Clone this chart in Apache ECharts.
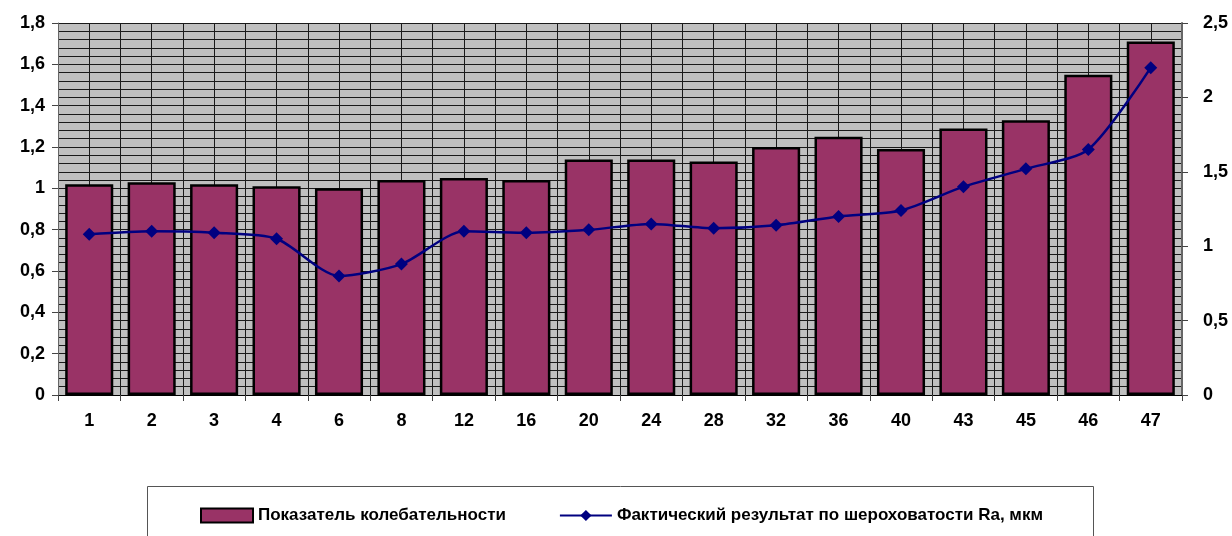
<!DOCTYPE html>
<html>
<head>
<meta charset="utf-8">
<script src="https://cdn.jsdelivr.net/npm/echarts@6/dist/echarts.min.js"></script>
<style>
  html, body { margin: 0; padding: 0; background: #fff; }
  #chart { width: 1232px; height: 536px; }
</style>
</head>
<body>
<div id="chart"></div>
<script>
// категории (номера образцов)
const categories = ['1', '2', '3', '4', '6', '8', '12', '16', '20', '24', '28', '32', '36', '40', '43', '45', '46', '47']
// показатель колебательности (левая ось)
const oscillation = [1.02, 1.03, 1.02, 1.01, 1.00, 1.04, 1.05, 1.04, 1.14, 1.14, 1.13, 1.20, 1.25, 1.19, 1.29, 1.33, 1.55, 1.71]
// шероховатость Ra, мкм (правая ось)
const roughness = [1.08, 1.10, 1.09, 1.05, 0.80, 0.88, 1.10, 1.09, 1.11, 1.15, 1.12, 1.14, 1.20, 1.24, 1.40, 1.52, 1.65, 2.20]

const barName = 'Показатель колебательности'
const lineName = 'Фактический результат по шероховатости Ra, мкм'

const font = '"Liberation Sans", Arial, sans-serif'
const comma = v => String(v).replace('.', ',')

const chart = echarts.init(document.getElementById('chart'))
chart.setOption({
  animation: false,
  textStyle: { fontFamily: font },
  grid: {
    left: 58, right: 50, top: 23, height: 372,
    outerBoundsMode: 'none',
    containLabel: false,
    show: true, backgroundColor: '#c0c0c0', borderWidth: 0
  },
  legend: {
    left: 200, top: 507, padding: 0,
    itemWidth: 52, itemHeight: 14, itemGap: 53,
    textStyle: { fontSize: 17, fontWeight: 'bold', color: '#000', fontFamily: font },
    data: [
      { name: barName, icon: 'rect' },
      { name: lineName }
    ]
  },
  graphic: [{
    type: 'rect',
    shape: { x: 147.5, y: 486.5, width: 946, height: 60 },
    style: { fill: 'none', stroke: '#555', lineWidth: 1 },
    z: -1
  }],
  xAxis: [
    {
      type: 'category',
      data: categories,
      axisLine: { lineStyle: { color: '#000', width: 1 } },
      axisTick: { show: true, length: 6, lineStyle: { color: '#444' } },
      axisLabel: { margin: 17, fontSize: 18, fontWeight: 'bold', color: '#000' },
      splitLine: { show: true, lineStyle: { color: '#1a1a1a', width: 1 } }
    },
    {
      // вспомогательная ось только для линий сетки посередине категорий
      type: 'category',
      data: categories.flatMap(c => [c + 'a', c + 'b']),
      position: 'bottom',
      axisLine: { show: false },
      axisTick: { show: false },
      axisLabel: { show: false },
      splitLine: { show: true, lineStyle: { color: '#1a1a1a', width: 1 } }
    }
  ],
  yAxis: [
    {
      type: 'value',
      min: 0, max: 1.8, interval: 0.2,
      axisLine: { show: true, lineStyle: { color: '#666', width: 1 } },
      axisTick: { show: true, length: 6, lineStyle: { color: '#444' } },
      axisLabel: { margin: 13, fontSize: 18, fontWeight: 'bold', color: '#000', formatter: v => comma(+v.toFixed(1)) },
      splitLine: { show: true, lineStyle: { color: '#1a1a1a', width: 1 } },
      minorTick: { show: false, splitNumber: 5 },
      minorSplitLine: { show: true, lineStyle: { color: '#1a1a1a', width: 1 } }
    },
    {
      type: 'value',
      min: 0, max: 2.5, interval: 0.5,
      axisLine: { show: true, lineStyle: { color: '#666', width: 2 } },
      axisTick: { show: true, length: 6, lineStyle: { color: '#444' } },
      axisLabel: { margin: 21, fontSize: 18, fontWeight: 'bold', color: '#000', formatter: v => comma(v) },
      splitLine: { show: false }
    }
  ],
  series: [
    {
      name: barName,
      type: 'bar',
      data: oscillation,
      barCategoryGap: '23%',
      itemStyle: { color: '#993366', borderColor: '#000', borderWidth: 2.5 }
    },
    {
      name: lineName,
      type: 'line',
      yAxisIndex: 1,
      data: roughness,
      smooth: 0.25,
      symbol: 'diamond',
      symbolSize: 13,
      lineStyle: { color: '#000080', width: 2.5 },
      itemStyle: { color: '#000080' }
    }
  ]
})
</script>
</body>
</html>
